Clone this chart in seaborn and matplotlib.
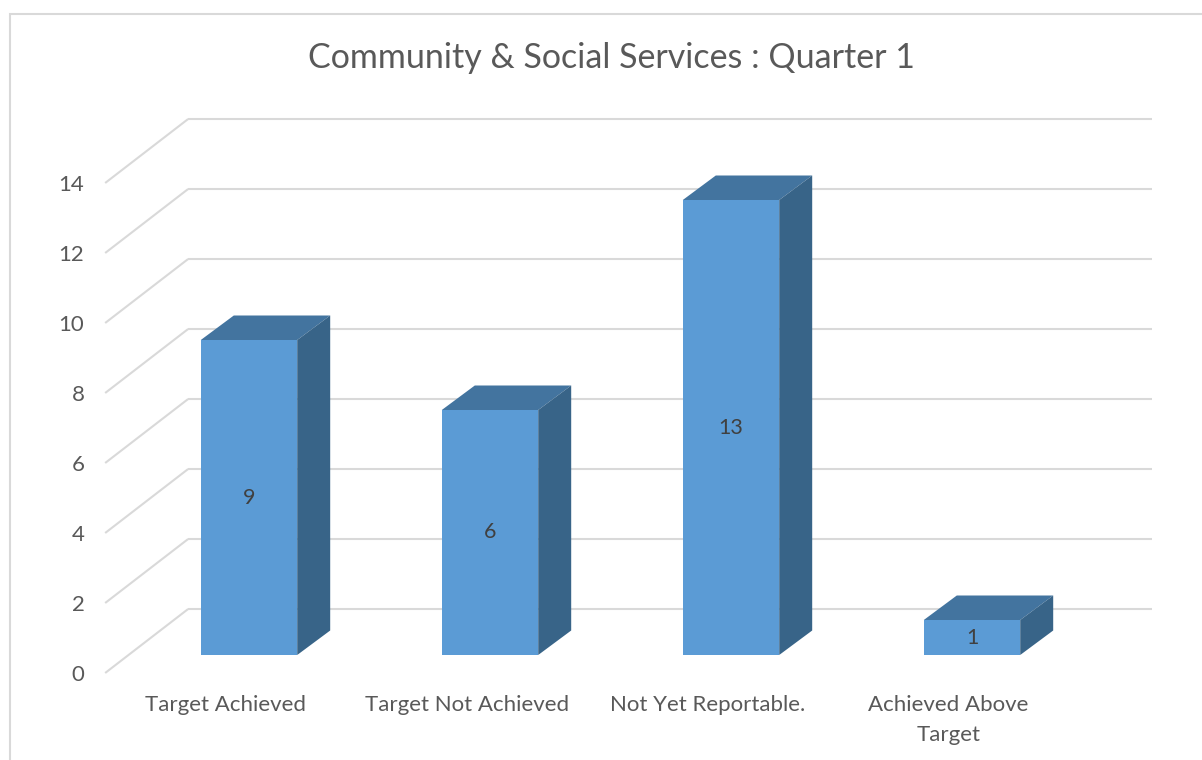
import matplotlib
matplotlib.use("Agg")
import matplotlib.pyplot as plt
from matplotlib.patches import Polygon, Rectangle
import seaborn as sns
import pandas as pd

# ---- data ----
categories = ["Target Achieved", "Target Not Achieved", "Not Yet Reportable.", "Achieved Above\nTarget"]
bar_heights = [9, 7, 13, 1]          # drawn bar heights
bar_labels = ["9", "6", "13", "1"]   # data labels printed on the bars
y_ticks = [0, 2, 4, 6, 8, 10, 12, 14]
title = "Community & Social Services : Quarter 1"

# ---- style ----
FRONT = "#5B9BD5"
TOP = "#43749F"
SIDE = "#386488"
GRID = "#D9D9D9"
TEXT = "#595959"
LABEL = "#404040"
FONT = ["Lato", "DejaVu Sans"]

sns.set_theme(style="white")
plt.rcParams["font.family"] = FONT

W, H = 1202, 760
fig = plt.figure(figsize=(W / 100, H / 100), dpi=100)

# pixel geometry of the pseudo-3D projection
PX_CAT, PX_UNIT = 241.0, 35.0     # pixels per category step / per value unit
OX, OY = 249.0, 655.0             # pixel of category 0, value 0 (bar front plane)
AX_L, AX_R, AX_T, AX_B = 90, 1195, 100, 688
ax = fig.add_axes([AX_L / W, 1 - AX_B / H, (AX_R - AX_L) / W, (AX_B - AX_T) / H])

# depth offsets (data units)
slope = 83.0 / 64.0
bdx, bdy = 33.0 / PX_CAT, 24.5 / PX_UNIT            # bar depth
fdx, fdy = -18.0 * slope / PX_CAT, -18.0 / PX_UNIT  # front plane relative to bar front
kdx, kdy = 46.0 * slope / PX_CAT, 46.0 / PX_UNIT    # back wall relative to bar front

df = pd.DataFrame({"category": categories, "value": bar_heights})
sns.barplot(data=df, x="category", y="value", color=FRONT, saturation=1, width=0.4,
            edgecolor="none", linewidth=0, ax=ax, zorder=2)

# walls / gridlines
x_left, x_right = -0.5, len(categories) - 0.5
for v in y_ticks:
    ax.plot([x_left + fdx, x_left + kdx], [v + fdy, v + kdy], color=GRID, lw=1.5, zorder=0.5,
            solid_capstyle="butt")
    ax.plot([x_left + kdx, x_right + kdx], [v + kdy, v + kdy], color=GRID, lw=1.5, zorder=0.5,
            solid_capstyle="butt")

for p, lab in zip(ax.patches, bar_labels):
    x0, y0 = p.get_x(), p.get_y()
    w, h = p.get_width(), p.get_height()
    x1, y1 = x0 + w, y0 + h
    top = Polygon([(x0, y1), (x0 + bdx, y1 + bdy), (x1 + bdx, y1 + bdy), (x1, y1)],
                  closed=True, facecolor=TOP, edgecolor="none", zorder=2)
    side = Polygon([(x1, y0), (x1 + bdx, y0 + bdy), (x1 + bdx, y1 + bdy), (x1, y1)],
                   closed=True, facecolor=SIDE, edgecolor="none", zorder=2)
    ax.add_patch(top)
    ax.add_patch(side)
    ax.text(x0 + w / 2, y0 + h / 2, lab, ha="center", va="center", fontsize=15.5,
            color=LABEL, zorder=3)

ax.set_xticks([i + fdx for i in range(len(categories))])
ax.set_xticklabels(categories, fontsize=16, color=TEXT, linespacing=1.6)
ax.set_yticks([v + fdy for v in y_ticks])
ax.set_yticklabels([str(v) for v in y_ticks], fontsize=16, color=TEXT)
ax.tick_params(axis="both", length=0)
ax.tick_params(axis="y", pad=4)
ax.tick_params(axis="x", pad=5)
ax.set_xlabel("")
ax.set_ylabel("")
for s in ax.spines.values():
    s.set_visible(False)
ax.set_facecolor("none")

# limits set last so the categorical plot does not reset them
ax.set_xlim((AX_L - OX) / PX_CAT, (AX_R - OX) / PX_CAT)
ax.set_ylim((OY - AX_B) / PX_UNIT, (OY - AX_T) / PX_UNIT)

fig.text(611 / W, 1 - 58 / H, title, ha="center", va="center", fontsize=24.5, color=TEXT)

# chart border
fig.patches.append(Rectangle((10 / W, -0.05), 1.1, 1 - 14 / H + 0.05, transform=fig.transFigure,
                             fill=False, edgecolor=GRID, lw=1.5, zorder=0))

fig.savefig("out.png", dpi=100, facecolor="white")
